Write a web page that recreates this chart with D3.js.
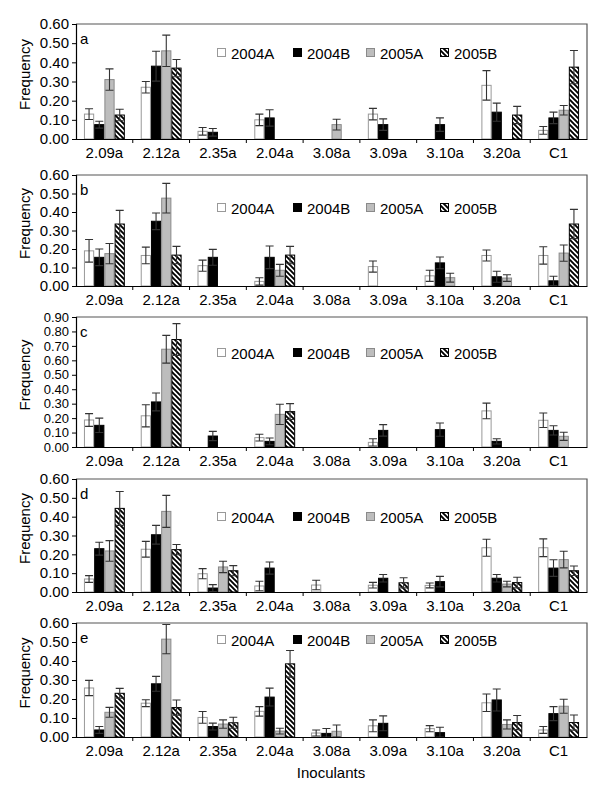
<!DOCTYPE html>
<html><head><meta charset="utf-8">
<script src="https://cdn.jsdelivr.net/npm/d3@7"></script>
<style>body{margin:0;background:#fff}svg{display:block}text{font-family:"Liberation Sans",Arial,sans-serif;fill:#000}</style>
</head><body><svg id="c" width="600" height="790"></svg>
<script>
const categories = ["2.09a","2.12a","2.35a","2.04a","3.08a","3.09a","3.10a","3.20a","C1"];
const series = ["2004A","2004B","2005A","2005B"];
const panelLetters = ["a","b","c","d","e"];
const yMax = [0.6,0.6,0.9,0.6,0.6];
const yTickStep = 0.1;

// values per panel: rows = series (2004A, 2004B, 2005A, 2005B), columns = categories
const valuesA = [
  [0.13,0.27,0.04,0.10,null,0.13,null,0.28,0.045],
  [0.075,0.38,0.035,0.11,null,0.075,0.075,0.14,0.11],
  [0.31,0.46,null,null,0.075,null,null,null,0.15],
  [0.125,0.37,null,null,null,null,null,0.125,0.375]];
const errorsA = [
  [0.028,0.03,0.02,0.03,0,0.03,0,0.077,0.02],
  [0.018,0.078,0.02,0.043,0,0.03,0.035,0.047,0.03],
  [0.056,0.082,0,0,0.028,0,0,0,0.025],
  [0.03,0.045,0,0,0,0,0,0.045,0.087]];
const valuesB = [
  [0.19,0.165,0.11,0.025,null,0.105,0.055,0.165,0.165],
  [0.155,0.35,0.155,0.155,null,null,0.125,0.05,0.028],
  [0.175,0.475,null,0.085,null,null,0.045,0.043,0.178],
  [0.335,0.167,null,0.167,null,null,null,null,0.335]];
const errorsB = [
  [0.061,0.045,0.03,0.02,0,0.03,0.03,0.03,0.047],
  [0.045,0.045,0.043,0.061,0,0,0.032,0.03,0.025],
  [0.055,0.08,0,0.032,0,0,0.024,0.018,0.044],
  [0.074,0.047,0,0.047,0,0,0,0,0.079]];
const valuesC = [
  [0.187,0.216,null,0.065,null,0.032,null,0.25,0.185],
  [0.15,0.312,0.076,0.039,null,0.115,0.12,0.039,0.115],
  [null,0.677,null,0.226,null,null,null,null,0.074],
  [null,0.744,null,0.245,null,null,null,null,null]];
const errorsC = [
  [0.044,0.077,0,0.023,0,0.025,0,0.054,0.05],
  [0.05,0.062,0.032,0.023,0,0.04,0.046,0.018,0.032],
  [0,0.096,0,0.07,0,0,0,0,0.028],
  [0,0.11,0,0.055,0,0,0,0,0]];
const valuesD = [
  [0.069,0.227,0.097,0.032,0.037,0.036,0.035,0.235,0.235],
  [0.23,0.304,0.021,0.127,null,0.073,0.055,0.073,0.127],
  [0.218,0.428,0.133,null,null,null,null,0.042,0.172],
  [0.444,0.225,0.113,null,null,0.049,null,0.05,0.113]];
const errorsD = [
  [0.018,0.042,0.027,0.025,0.025,0.015,0.013,0.045,0.047],
  [0.034,0.05,0.018,0.032,0,0.02,0.028,0.02,0.044],
  [0.055,0.085,0.03,0,0,0,0,0.015,0.044],
  [0.09,0.027,0.027,0,0,0.027,0,0.028,0.025]];
const valuesE = [
  [0.258,0.178,0.103,0.135,0.021,0.059,0.044,0.18,0.037],
  [0.037,0.28,0.055,0.21,0.019,0.072,0.023,0.195,0.123],
  [0.13,0.515,0.068,0.031,0.03,null,null,0.066,0.162],
  [0.23,0.155,0.075,0.385,null,null,null,0.076,0.076]];
const errorsE = [
  [0.04,0.018,0.031,0.025,0.016,0.031,0.016,0.046,0.018],
  [0.018,0.039,0.018,0.047,0.026,0.039,0.028,0.058,0.037],
  [0.026,0.077,0.022,0.015,0.033,0,0,0.024,0.037],
  [0.026,0.04,0.029,0.07,0,0,0,0.037,0.04]];
const panelValues = [valuesA,valuesB,valuesC,valuesD,valuesE];
const panelErrors = [errorsA,errorsB,errorsC,errorsD,errorsE];

// layout
const L = 76, R = 587;
const panelTop = [24,175,317,479,623];
const panelBottom = [139,286,447,592,737];
const legendY = [53,208,353,517,640];
const legendX = [217,293,366,440];
const tickFont = [15,15,13,15,15];

const svg = d3.select("#c");
const defs = svg.append("defs");
const pat = defs.append("pattern").attr("id","hatch").attr("patternUnits","userSpaceOnUse")
  .attr("width",5).attr("height",5);
pat.append("rect").attr("width",5).attr("height",5).attr("fill","#fff");
pat.append("path").attr("d","M-1,-1L6,6M-1,4L1,6M4,-1L6,1").attr("stroke","#000").attr("stroke-width",1.9);

const fills = ["#fff","#000","#bdbdbd","url(#hatch)"];
const strokes = ["#999","#000","#8a8a8a","#000"];

const x = d3.scaleBand().domain(categories).range([L,R]).padding(0);
const xs = d3.scaleBand().domain(series).range([x.bandwidth()*0.14, x.bandwidth()*0.86]).padding(0);

panelLetters.forEach((letter,p)=>{
  const top = panelTop[p], bot = panelBottom[p];
  const y = d3.scaleLinear().domain([0,yMax[p]]).range([bot,top]);
  const g = svg.append("g");
  const ticks = d3.range(0, yMax[p]+1e-9, yTickStep);

  g.append("path").attr("d",`M${L},${top}H${R}V${bot}`).attr("fill","none").attr("stroke","#555").attr("stroke-width",1.2);

  const vals = panelValues[p], errs = panelErrors[p];
  series.forEach((s,si)=>{
    categories.forEach((c,ci)=>{
      const v = vals[si][ci];
      if (v == null) return;
      const bx = x(c)+xs(s);
      g.append("rect").attr("x",bx+0.5).attr("y",y(v)).attr("width",xs.bandwidth()-1).attr("height",y(0)-y(v))
        .attr("fill",fills[si]).attr("stroke",strokes[si]).attr("stroke-width",1);
    });
  });
  series.forEach((s,si)=>{
    categories.forEach((c,ci)=>{
      const v = vals[si][ci], e = errs[si][ci];
      if (v == null || !e) return;
      const cx = x(c)+xs(s)+xs.bandwidth()/2;
      const y1 = y(v+e), y2 = y(Math.max(0,v-e));
      g.append("path").attr("d",`M${cx},${y1}V${y2}M${cx-4},${y1}H${cx+4}M${cx-4},${y2}H${cx+4}`)
        .attr("stroke","#333").attr("stroke-width",1.1).attr("fill","none");
    });
  });

  const ya = g.append("g").attr("transform",`translate(${L},0)`)
    .call(d3.axisLeft(y).tickValues(ticks).tickFormat(d3.format(".2f")).tickSize(4).tickPadding(3));
  ya.select(".domain").attr("stroke","#000").attr("stroke-width",1.2);
  ya.selectAll(".tick line").attr("stroke","#000");
  ya.selectAll("text").attr("font-size",tickFont[p]).attr("font-family","Liberation Sans, Arial, sans-serif").attr("fill","#000");

  const xa = g.append("g").attr("transform",`translate(0,${bot})`)
    .call(d3.axisBottom(x).tickSize(0).tickPadding(8));
  xa.select(".domain").attr("stroke","#000").attr("stroke-width",1.2);
  xa.selectAll("text").attr("font-size",15).attr("font-family","Liberation Sans, Arial, sans-serif").attr("fill","#000");
  categories.slice(1).forEach(c=>{
    g.append("line").attr("x1",x(c)).attr("x2",x(c)).attr("y1",bot).attr("y2",bot+4).attr("stroke","#000");
  });

  g.append("text").attr("x",L+4).attr("y",top+20).attr("font-size",15).text(letter);

  g.append("text").attr("transform",`translate(24,${(top+bot)/2-7}) rotate(-90)`)
    .attr("text-anchor","middle").attr("dominant-baseline","central").attr("font-size",15).text("Frequency");

  series.forEach((s,si)=>{
    const lx = legendX[si], ly = legendY[p];
    g.append("rect").attr("x",lx+0.5).attr("y",ly-4.5).attr("width",8).attr("height",8)
      .attr("fill",fills[si]).attr("stroke",strokes[si]).attr("stroke-width",1);
    g.append("text").attr("x",lx+14).attr("y",ly).attr("dominant-baseline","central").attr("font-size",15).text(s);
  });
});

svg.append("text").attr("x",331).attr("y",772).attr("text-anchor","middle").attr("dominant-baseline","central")
  .attr("font-size",15).text("Inoculants");
</script></body></html>
